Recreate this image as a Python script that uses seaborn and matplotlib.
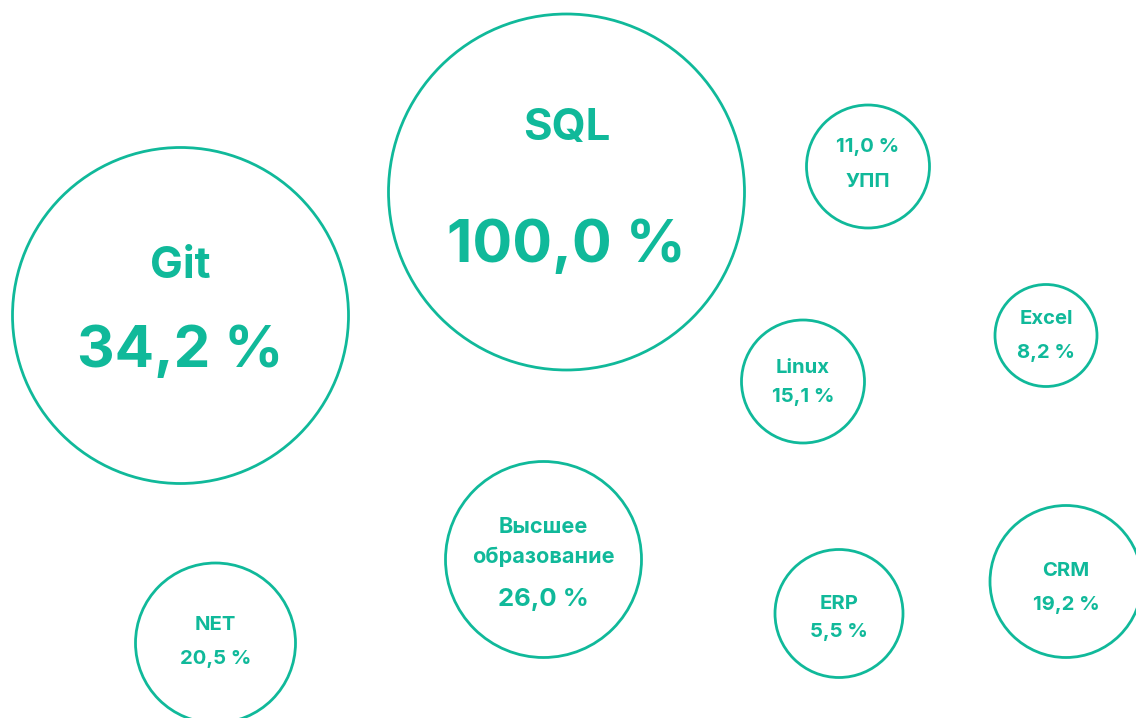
import matplotlib
matplotlib.use("Agg")
import matplotlib.pyplot as plt
import seaborn as sns
import pandas as pd

# ---- data ----
skills = ["SQL", "Git", "УПП", "Excel", "Linux", "Высшее\nобразование", "NET", "ERP", "CRM"]
shares = [100.0, 34.2, 11.0, 8.2, 15.1, 26.0, 20.5, 5.5, 19.2]
# bubble layout (pixel-like canvas coordinates) and radii as drawn
bx = [566.5, 180.5, 868, 1046, 803, 543.5, 215.5, 839, 1066]
by = [192, 315.5, 166.5, 335.5, 381.5, 559.5, 643, 613.5, 581.5]
br = [178, 168, 61.5, 51, 61.5, 98, 80, 64, 76]

COLOR = "#10b99a"

sns.set_theme(style="white")
plt.rcParams["font.family"] = ["Inter", "DejaVu Sans"]

df = pd.DataFrame({"skill": skills, "share": shares, "x": bx, "y": by, "r": br})
# marker size (points^2): diameter in points = 2 r px * 72/100
df["s"] = (2 * df["r"] * 0.72) ** 2

fig = plt.figure(figsize=(11.36, 7.18), dpi=100)
ax = fig.add_axes([0, 0, 1, 1])
sns.scatterplot(data=df, x="x", y="y", s=df["s"].values, facecolors="none",
                edgecolor=COLOR, linewidth=2.0, ax=ax, legend=False)
ax.collections[0].set_facecolor("none")
ax.collections[0].set_edgecolor(COLOR)
ax.set_xlim(0, 1136)
ax.set_ylim(718, 0)
ax.axis("off")


def fmt(v):
    return f"{v:.1f}".replace(".", ",") + " %"


# text styling per bubble: (name font pt, value font pt, name baselines, value baseline)
style = {
    "SQL": (31.5, 42.5, [140], 262),
    "Git": (31.5, 42, [278], 367),
    "УПП": (14.6, 14.6, [187], 152),
    "Excel": (14.6, 14.6, [324], 358),
    "Linux": (14.6, 14.6, [373], 402),
    "Высшее\nобразование": (15.6, 18.5, [533, 563], 606),
    "NET": (14.6, 14.6, [630], 664),
    "ERP": (14.6, 14.6, [609], 637),
    "CRM": (14.6, 14.6, [576], 610),
}

for _, row in df.iterrows():
    nfs, vfs, nbl, vbl = style[row["skill"]]
    for line, yb in zip(row["skill"].split("\n"), nbl):
        ax.text(row["x"], yb, line, ha="center", va="baseline", fontsize=nfs,
                fontweight="bold", color=COLOR)
    ax.text(row["x"], vbl, fmt(row["share"]), ha="center", va="baseline",
            fontsize=vfs, fontweight="bold", color=COLOR)

fig.savefig("out.png", dpi=100, facecolor="white")
